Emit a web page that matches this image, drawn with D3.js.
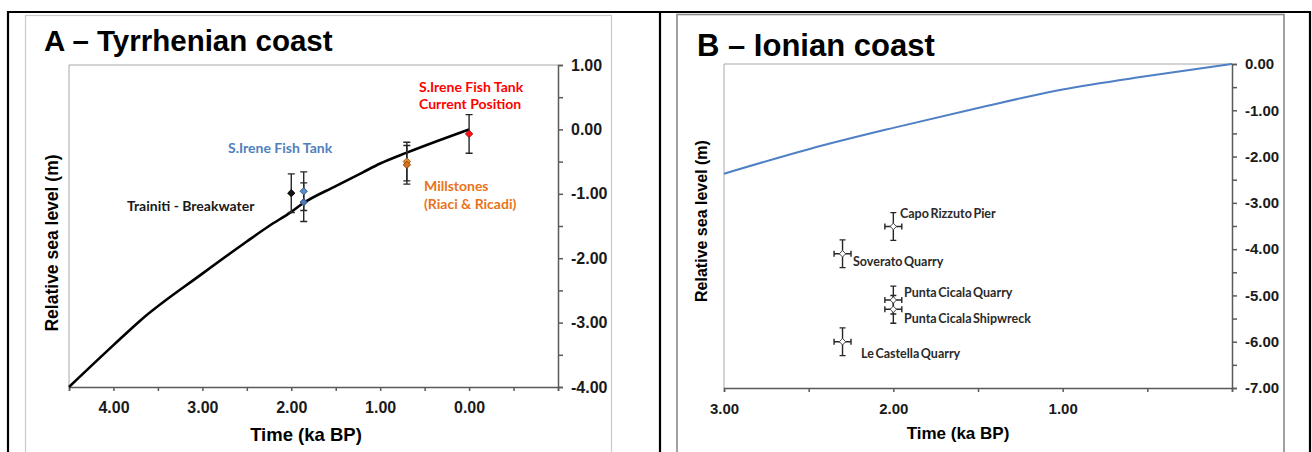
<!DOCTYPE html>
<html>
<head>
<meta charset="utf-8">
<script src="https://cdn.jsdelivr.net/npm/d3@7"></script>
<style>
  body { margin: 0; background: #fff; }
  svg { display: block; }
  .tick text { font-family: "Liberation Sans", Arial, sans-serif; font-weight: bold; fill: #1a1a1a; }
  .lbl { font-family: Lato, "Open Sans", sans-serif; font-weight: bold; }
</style>
</head>
<body>
<svg id="chart" width="1312" height="452"></svg>
<script>
// ---- panel A: Tyrrhenian coast ----
var curveA = [[4.5, -4.0], [4.0, -3.35], [3.7, -2.97], [3.0, -2.24], [2.5, -1.74], [2.25, -1.5],
              [2.0, -1.28], [1.87, -1.15], [1.5, -0.88], [1.2, -0.67], [1.0, -0.53], [0.7, -0.36], [0.0, 0.0]];
var pointsA = [
    {name: "Trainiti", t: 2.0, z: -0.99, err: 0.3, color: "#111111"},
    {name: "S.Irene 1", t: 1.86, z: -0.96, err: 0.3, color: "#5b8fc9"},
    {name: "S.Irene 2", t: 1.86, z: -1.13, err: 0.3, color: "#4a7ab5"},
    {name: "Millstones 1", t: 0.7, z: -0.50, err: 0.3, color: "#f08a2c"},
    {name: "Millstones 2", t: 0.7, z: -0.55, err: 0.3, color: "#d8701a"},
    {name: "S.Irene now", t: 0.0, z: -0.07, err: 0.3, color: "#ff1010"}
];
var labelsA = [
    {text: ["S.Irene Fish Tank", "Current Position"], color: "#ff0000"},
    {text: ["S.Irene Fish Tank"], color: "#4f7fbd"},
    {text: ["Trainiti - Breakwater"], color: "#1a1a1a"},
    {text: ["Millstones", "(Riaci & Ricadi)"], color: "#e8731c"}
];
var xTicksA = [4, 3, 2, 1, 0];
var yTicksA = [1, 0, -1, -2, -3, -4];

// ---- panel B: Ionian coast ----
var curveB = [[3.0, -2.37], [2.5, -1.84], [2.0, -1.38], [1.5, -0.95], [1.0, -0.55], [0.5, -0.26], [0.0, 0.0]];
var pointsB = [
    {name: "Capo Rizzuto Pier", t: 2.0, z: -3.51, err: 0.3, terr: 0.05},
    {name: "Soverato Quarry", t: 2.3, z: -4.1, err: 0.3, terr: 0.05},
    {name: "Punta Cicala Quarry", t: 2.0, z: -5.1, err: 0.3, terr: 0.05},
    {name: "Punta Cicala Shipwreck", t: 2.0, z: -5.3, err: 0.3, terr: 0.05},
    {name: "Le Castella Quarry", t: 2.3, z: -6.0, err: 0.3, terr: 0.05}
];
var xTicksB = [3, 2, 1];
var yTicksB = [0, -1, -2, -3, -4, -5, -6, -7];

// label placement (pixels, panel coordinates)
var labelPosA = [[419, 92, 17], [228, 153, 0], [127, 211, 0], [424, 191, 18]];
var labelPosB = [[900, 218], [853, 266], [904, 297], [904, 323], [861, 358]];

var svg = d3.select("#chart");
var fmt = function (d) { return d3.format(".2f")(d).replace("\u2212", "-"); };

// outer black frame
svg.append("path")
    .attr("d", "M8,460 V12 H1310 V460 M660,12 V460")
    .attr("fill", "none").attr("stroke", "#000").attr("stroke-width", 2.2);
// inner chart-area frames
svg.append("rect").attr("x", 25.5).attr("y", 15.5).attr("width", 586).attr("height", 460)
    .attr("fill", "none").attr("stroke", "#c9c9c9").attr("stroke-width", 1.2);
svg.append("rect").attr("x", 677).attr("y", 14.5).attr("width", 607).attr("height", 460)
    .attr("fill", "none").attr("stroke", "#8a8a8a").attr("stroke-width", 1.6);

function halfSteps(a, b) {
    var out = [];
    var lo = Math.min(a, b), hi = Math.max(a, b);
    for (var v = lo; v <= hi + 1e-9; v += 0.5) out.push(Math.round(v * 10) / 10);
    return out;
}

function drawFrame(g, x, y, xLabels, yLabels, fontX, fontY) {
    var x0 = x.range()[0], x1 = x.range()[1], y0 = y.range()[0], y1 = y.range()[1];
    // light top/left border of plot area
    g.append("path")
        .attr("d", "M" + x0 + "," + y1 + " V" + y0 + " H" + x1)
        .attr("fill", "none").attr("stroke", "#a8a8a8").attr("stroke-width", 1);

    var xAxis = d3.axisBottom(x)
        .tickValues(halfSteps(x.domain()[0], x.domain()[1]))
        .tickSize(4).tickPadding(11)
        .tickFormat(function (d) { return xLabels.indexOf(d) >= 0 ? fmt(d) : ""; });
    var gx = g.append("g").attr("transform", "translate(0," + y1 + ")").call(xAxis);
    gx.selectAll("text").style("font-size", fontX + "px");

    var yAxis = d3.axisRight(y)
        .tickValues(halfSteps(y.domain()[0], y.domain()[1]))
        .tickSize(5).tickPadding(8)
        .tickFormat(function (d) { return yLabels.indexOf(d) >= 0 ? fmt(d) : ""; });
    var gy = g.append("g").attr("transform", "translate(" + x1 + ",0)").call(yAxis);
    gy.selectAll("text").style("font-size", fontY + "px");

    g.selectAll(".domain, .tick line").attr("stroke", "#5a5a5a").attr("stroke-width", 1.5);
}

function errorBars(g, data, x, y, cap) {
    data.forEach(function (d) {
        var px = x(d.t);
        var path = "M" + px + "," + y(d.z + d.err) + " V" + y(d.z - d.err) +
            " M" + (px - cap) + "," + y(d.z + d.err) + " H" + (px + cap) +
            " M" + (px - cap) + "," + y(d.z - d.err) + " H" + (px + cap);
        if (d.terr) {
            var l = x(d.t + d.terr), r = x(d.t - d.terr), py = y(d.z);
            path += " M" + l + "," + py + " H" + r +
                " M" + l + "," + (py - cap) + " V" + (py + cap) +
                " M" + r + "," + (py - cap) + " V" + (py + cap);
        }
        g.append("path").attr("d", path).attr("fill", "none")
            .attr("stroke", "#262626").attr("stroke-width", 1.4);
    });
}

// ================= Panel A =================
var xA = d3.scaleLinear().domain([4.5, -1]).range([69, 558]);
var yA = d3.scaleLinear().domain([1, -4]).range([65, 387]);
var gA = svg.append("g");

gA.append("text").attr("x", 44).attr("y", 51)
    .style("font-family", "'Liberation Sans', Arial, sans-serif").style("font-weight", "bold")
    .style("font-size", "29.5px").attr("fill", "#000").text("A \u2013 Tyrrhenian coast");

drawFrame(gA, xA, yA, xTicksA, yTicksA, 16, 16);

gA.append("path").datum(curveA)
    .attr("d", d3.line().x(function (d) { return xA(d[0]); }).y(function (d) { return yA(d[1]); })
        .curve(d3.curveMonotoneX))
    .attr("fill", "none").attr("stroke", "#000").attr("stroke-width", 2.6);

errorBars(gA, pointsA, xA, yA, 3.5);

gA.selectAll(".ptA").data(pointsA).enter().append("path")
    .attr("class", "ptA")
    .attr("transform", function (d) { return "translate(" + xA(d.t) + "," + yA(d.z) + ")"; })
    .attr("d", d3.symbol().type(d3.symbolDiamond2).size(34))
    .attr("fill", function (d) { return d.color; })
    .attr("stroke", function (d) { return d3.color(d.color).darker(1.2); })
    .attr("stroke-width", 1);

labelsA.forEach(function (l, i) {
    var p = labelPosA[i];
    var t = gA.append("text").attr("class", "lbl").attr("x", p[0]).attr("y", p[1])
        .attr("fill", l.color).style("font-size", "14px");
    l.text.forEach(function (s, j) {
        t.append("tspan").attr("x", p[0]).attr("dy", j ? p[2] : 0).text(s);
    });
});

gA.append("text").attr("transform", "translate(58,243) rotate(-90)")
    .attr("text-anchor", "middle")
    .style("font-family", "'Liberation Sans', Arial, sans-serif").style("font-weight", "bold")
    .style("font-size", "17.5px").text("Relative sea level (m)");
gA.append("text").attr("x", 306).attr("y", 441).attr("text-anchor", "middle")
    .style("font-family", "'Liberation Sans', Arial, sans-serif").style("font-weight", "bold")
    .style("font-size", "18.5px").text("Time (ka BP)");

// ================= Panel B =================
var xB = d3.scaleLinear().domain([3, 0]).range([724, 1232]);
var yB = d3.scaleLinear().domain([0, -7]).range([64, 388]);
var gB = svg.append("g");

gB.append("text").attr("x", 697).attr("y", 56)
    .style("font-family", "'Liberation Sans', Arial, sans-serif").style("font-weight", "bold")
    .style("font-size", "31px").attr("fill", "#000").text("B \u2013 Ionian coast");

drawFrame(gB, xB, yB, xTicksB, yTicksB, 15, 15);

gB.append("path").datum(curveB)
    .attr("d", d3.line().x(function (d) { return xB(d[0]); }).y(function (d) { return yB(d[1]); })
        .curve(d3.curveMonotoneX))
    .attr("fill", "none").attr("stroke", "#4f7fc4").attr("stroke-width", 2);

errorBars(gB, pointsB, xB, yB, 3);

gB.selectAll(".ptB").data(pointsB).enter().append("path")
    .attr("class", "ptB")
    .attr("transform", function (d) { return "translate(" + xB(d.t) + "," + yB(d.z) + ")"; })
    .attr("d", d3.symbol().type(d3.symbolDiamond2).size(26))
    .attr("fill", "#fff").attr("stroke", "#444").attr("stroke-width", 1);

pointsB.forEach(function (d, i) {
    gB.append("text").attr("class", "lbl").attr("x", labelPosB[i][0]).attr("y", labelPosB[i][1])
        .attr("fill", "#2a2a2a").style("font-size", "12.5px").style("word-spacing", "-1.5px")
        .text(d.name);
});

gB.append("text").attr("transform", "translate(707,221) rotate(-90)")
    .attr("text-anchor", "middle")
    .style("font-family", "'Liberation Sans', Arial, sans-serif").style("font-weight", "bold")
    .style("font-size", "16px").text("Relative sea level (m)");
gB.append("text").attr("x", 958).attr("y", 439).attr("text-anchor", "middle")
    .style("font-family", "'Liberation Sans', Arial, sans-serif").style("font-weight", "bold")
    .style("font-size", "17px").text("Time (ka BP)");
</script>
</body>
</html>
